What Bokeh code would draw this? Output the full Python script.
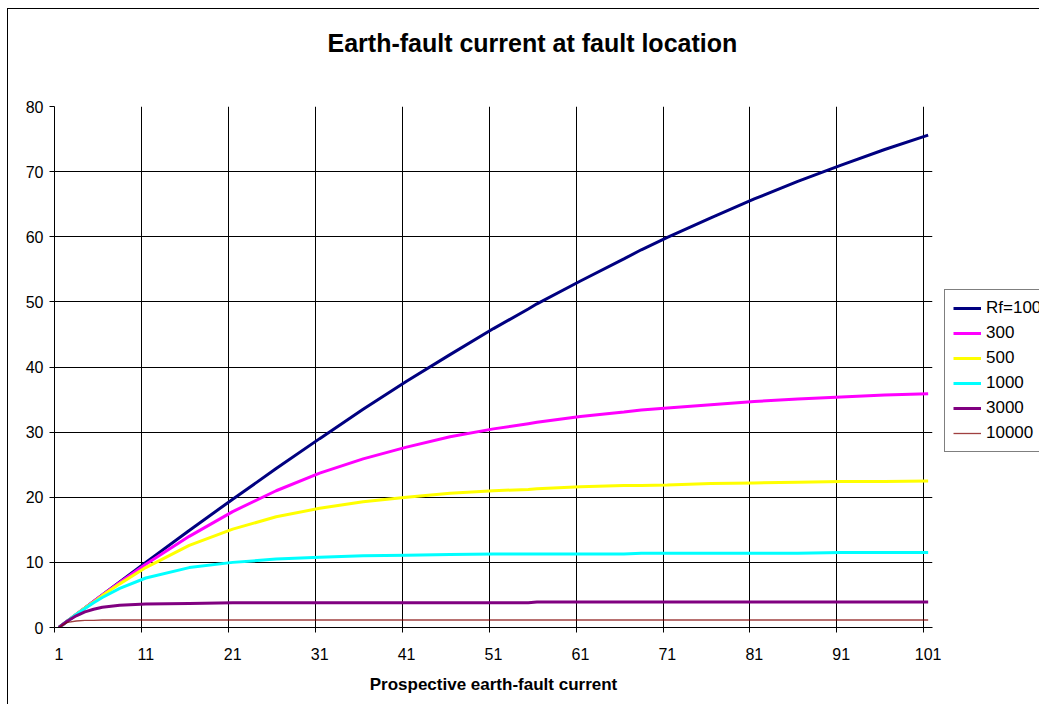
from bokeh.plotting import figure
from bokeh.models import Range1d, FixedTicker, LinearAxis, Grid, Legend, LegendItem, Title
from bokeh.embed import file_html
from bokeh.resources import INLINE

# ---- data ----
categories = [1, 2, 3, 4, 5, 6, 8, 11, 16, 21, 26, 31, 36, 41, 46, 51, 55, 56,
              61, 66, 68, 71, 76, 81, 86, 91, 96, 101]
rf100 = [0, 1.0, 2.0, 3.0, 4.0, 5.0, 7.0, 10.0, 14.9, 19.7, 24.4, 29.0, 33.5, 37.8,
         41.9, 45.9, 48.9, 49.7, 53.2, 56.6, 58.0, 59.9, 62.9, 65.8, 68.5, 71.0, 73.4, 75.6]
rf300 = [0, 1.0, 2.0, 3.0, 4.0, 5.0, 6.9, 9.7, 14.0, 17.8, 21.0, 23.7, 25.9, 27.7,
         29.3, 30.5, 31.3, 31.5, 32.4, 33.1, 33.4, 33.7, 34.2, 34.7, 35.1, 35.4, 35.7, 35.9]
rf500 = [0, 1.0, 2.0, 3.0, 3.9, 4.9, 6.7, 9.2, 12.6, 15.1, 17.0, 18.3, 19.3, 20.0,
         20.6, 21.0, 21.2, 21.3, 21.6, 21.8, 21.8, 21.9, 22.1, 22.2, 22.3, 22.4, 22.4, 22.5]
rf1000 = [0, 1.0, 2.0, 2.9, 3.8, 4.6, 6.0, 7.6, 9.2, 10.0, 10.5, 10.8, 11.0, 11.1,
          11.2, 11.3, 11.3, 11.3, 11.3, 11.3, 11.4, 11.4, 11.4, 11.4, 11.4, 11.5, 11.5, 11.5]
rf3000 = [0, 1.0, 1.8, 2.4, 2.8, 3.1, 3.4, 3.6, 3.7, 3.8, 3.8, 3.8, 3.8, 3.8,
          3.8, 3.8, 3.8, 3.9, 3.9, 3.9, 3.9, 3.9, 3.9, 3.9, 3.9, 3.9, 3.9, 3.9]
rf10000 = [0, 0.8, 1.0, 1.1, 1.1, 1.15, 1.15, 1.15, 1.15, 1.15, 1.15, 1.15, 1.15, 1.15,
           1.15, 1.15, 1.15, 1.15, 1.15, 1.15, 1.15, 1.15, 1.15, 1.15, 1.15, 1.15, 1.15, 1.15]

series_labels = ["Rf=100", "300", "500", "1000", "3000", "10000"]
series_values = [rf100, rf300, rf500, rf1000, rf3000, rf10000]
series_colors = ["#000080", "#FF00FF", "#FFFF00", "#00FFFF", "#800080", "#800000"]
series_widths = [3, 3, 3, 3, 3, 1.3]
series_alphas = [1, 1, 1, 1, 1, 0.75]

x_tick_labels = ["1", "11", "21", "31", "41", "51", "61", "71", "81", "91", "101"]
y_ticks = [0, 10, 20, 30, 40, 50, 60, 70, 80]

title_text = "Earth-fault current at fault location"
x_title = "Prospective earth-fault current"

FONT = "Liberation Sans"

label_pos = [int(t) for t in x_tick_labels]
boundaries = [c - 0.5 for c in label_pos]

p = figure(frame_width=878, frame_height=521,
           min_border_left=46, min_border_right=107, min_border_top=97, min_border_bottom=77,
           x_range=Range1d(0.5, 101.5), y_range=Range1d(0, 80),
           output_backend="svg", toolbar_location=None,
           x_axis_location=None, y_axis_location="left")
p.styles = {"border-left": "1px solid black", "border-top": "1px solid black",
            "margin-left": "7px", "margin-top": "8px"}
p.outline_line_color = None
p.background_fill_color = "white"
p.border_fill_color = "white"

for g in p.xgrid:
    g.visible = False

# spacer between frame and title
p.add_layout(Title(text=" ", text_font_size="1px", standoff=42), "above")

p.title.text = title_text
p.title.align = "left"
p.title.offset = 273
p.title.standoff = 10
p.title.text_font = FONT
p.title.text_font_size = "25px"
p.title.text_font_style = "bold"
p.title.text_color = "black"

# y axis
ya = p.yaxis[0]
ya.ticker = FixedTicker(ticks=y_ticks)
ya.major_tick_out = 5
ya.major_tick_in = 0
ya.minor_tick_out = 0
ya.minor_tick_in = 0
ya.axis_line_color = "black"
ya.major_tick_line_color = "black"
ya.major_label_text_font = FONT
ya.major_label_text_font_size = "16px"
ya.major_label_text_color = "black"
ya.major_label_standoff = 6

p.ygrid.ticker = FixedTicker(ticks=y_ticks)
p.ygrid.grid_line_color = "black"
p.ygrid.grid_line_width = 1

xgrid = Grid(dimension=0, ticker=FixedTicker(ticks=boundaries),
             grid_line_color="black", grid_line_width=1)
p.add_layout(xgrid)

# x axis: tick marks at category boundaries
xa = LinearAxis(ticker=FixedTicker(ticks=boundaries),
                major_tick_out=5, major_tick_in=0, minor_tick_out=0, minor_tick_in=0,
                major_label_text_font_size="0px", major_label_standoff=0,
                major_label_overrides={b: "" for b in boundaries},
                axis_line_color="black", major_tick_line_color="black")
p.add_layout(xa, "below")

# x axis: labels at category centres
xb = LinearAxis(ticker=FixedTicker(ticks=label_pos),
                major_label_overrides={c: t for c, t in zip(label_pos, x_tick_labels)},
                major_tick_out=0, major_tick_in=0, minor_tick_out=0, minor_tick_in=0,
                axis_line_color=None, major_tick_line_color=None,
                major_label_text_font=FONT, major_label_text_font_size="16px",
                major_label_text_color="black", major_label_standoff=15,
                axis_label=x_title, axis_label_text_font=FONT,
                axis_label_text_font_size="17px", axis_label_text_font_style="bold",
                axis_label_text_color="black", axis_label_standoff=12)
p.add_layout(xb, "below")

items = []
for lab, vals, col, w, a in zip(series_labels, series_values, series_colors,
                                series_widths, series_alphas):
    r = p.line(categories, vals, line_color=col, line_width=w, line_alpha=a)
    items.append(LegendItem(label=lab, renderers=[r]))

legend = Legend(items=items, location=(12, 175),
                label_text_font=FONT, label_text_font_size="17px", label_text_color="black",
                label_height=20, glyph_height=20, glyph_width=28, label_standoff=5,
                spacing=5, padding=8, margin=0,
                border_line_color="black", border_line_width=1,
                background_fill_color="white", background_fill_alpha=1)
p.add_layout(legend, "right")

open("out.html", "w").write(file_html(p, INLINE))
